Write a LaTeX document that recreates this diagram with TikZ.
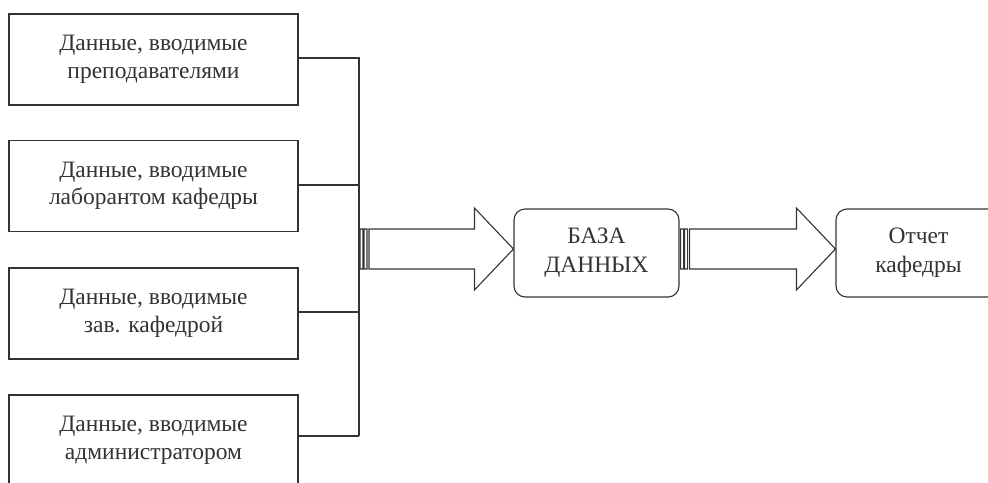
\documentclass[tikz,border=0pt]{standalone}
\usepackage{fontspec}
\setmainfont{Liberation Serif}
\usetikzlibrary{calc}
\definecolor{ink}{HTML}{333333}
\begin{document}
\begin{tikzpicture}[x=1pt,y=-1pt,
  line width=1.1pt, draw=ink, text=ink,
  srcbox/.style={draw=ink, rectangle, minimum width=289pt, minimum height=91pt,
    align=center, font=\fontsize{23.5}{27.5}\selectfont, inner sep=0pt},
  roundbox/.style={draw=ink, rectangle, rounded corners=11pt, minimum width=165pt,
    minimum height=88pt, align=center, font=\fontsize{23.5}{29}\selectfont, inner sep=0pt},
  link/.style={draw=ink, line width=1.1pt},
  bigarrow/.style={draw=ink, fill=white, line width=1.1pt, line join=miter},
  stripe/.style={draw=ink, fill=black!20, line width=0.8pt}]
\clip (0,0) rectangle (988,482);

% source boxes
\node[srcbox] (b1) at (153.5,59.5)  {Данные, вводимые\\преподавателями};
\node[srcbox] (b2) at (153.5,186)   {Данные, вводимые\\лаборантом кафедры};
\node[srcbox] (b3) at (153.5,313.5) {Данные, вводимые\\зав. кафедрой};
\node[srcbox] (b4) at (153.5,440.5) {Данные, вводимые\\администратором};

% result boxes
\node[roundbox] (db) at (596.5,253) {БАЗА\\ДАННЫХ};
\node[roundbox] (rep) at (918.5,253) {Отчет\\кафедры};

% collecting bus
\coordinate (bus) at (359,0);
\coordinate (tA) at (359,249);
\draw[link] (b1.east |- 0,58) -| (bus |- 0,436);
\draw[link] (b2.east |- 0,185) -- (bus |- 0,185);
\draw[link] (b3.east |- 0,312) -- (bus |- 0,312);
\draw[link] (b4.east |- 0,436) -- (bus |- 0,436);

% block arrow from (#1) to (#2): striped tail, wide shaft, triangular head
\newcommand{\blockarrow}[2]{%
  \path let \p1=(#1), \p2=(#2) in
    [stripe] (\x1+1pt,\y1+20pt) rectangle (\x1+4pt,\y1-20pt)
    [stripe] (\x1+5pt,\y1+20pt) rectangle (\x1+8pt,\y1-20pt)
    [bigarrow] (\x1+10pt,\y1+20pt) -- (\x2-39pt,\y1+20pt) -- (\x2-39pt,\y1+41pt)
      -- (\x2,\y1) -- (\x2-39pt,\y1-41pt) -- (\x2-39pt,\y1-20pt)
      -- (\x1+10pt,\y1-20pt) -- cycle;}

\coordinate (tB) at ($(db.east)+(0,-4)$);
\blockarrow{tA}{db.west |- tA}
\blockarrow{tB}{rep.west |- tB}
\end{tikzpicture}
\end{document}
